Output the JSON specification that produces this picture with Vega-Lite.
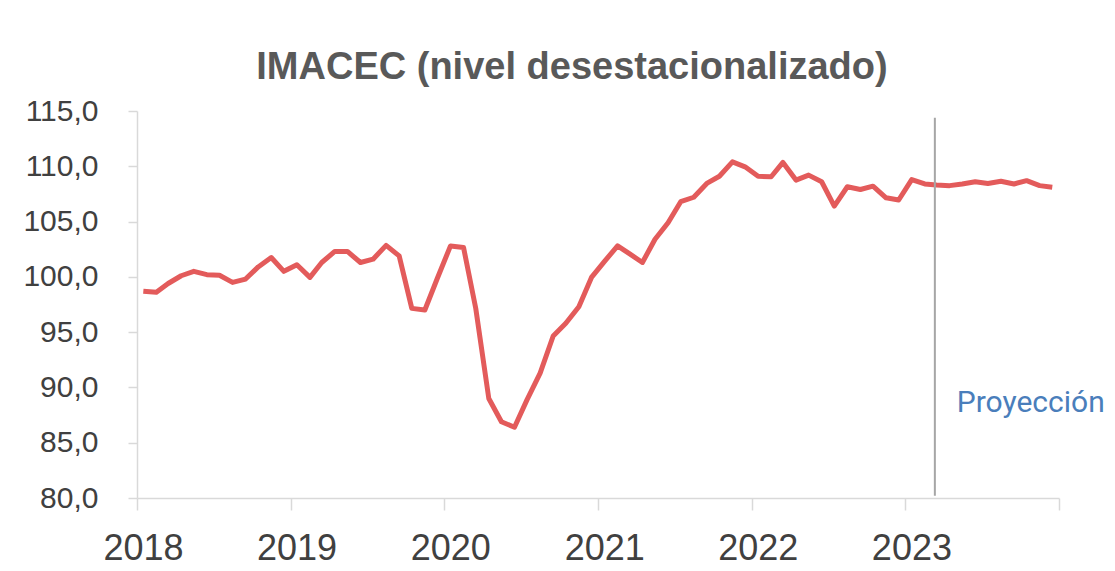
{
  "$schema": "https://vega.github.io/schema/vega-lite/v6.json",
  "autosize": "none",
  "width": 922,
  "height": 387,
  "padding": {"left": 137, "top": 111, "right": 56, "bottom": 73},
  "background": "white",
  "config": {"view": {"stroke": null}},
  "title": {
    "text": "IMACEC (nivel desestacionalizado)",
    "font": "Liberation Sans",
    "fontWeight": "bold",
    "fontSize": 38,
    "color": "#595959",
    "anchor": "middle",
    "frame": "group",
    "baseline": "alphabetic",
    "offset": 31,
    "dx": -26,
    "dy": 52
  },
  "layer": [
    {
      "data": {"values": [
        {"date": "2018-01-16", "v": 98.7},
        {"date": "2018-02-16", "v": 98.6},
        {"date": "2018-03-16", "v": 99.4},
        {"date": "2018-04-16", "v": 100.1},
        {"date": "2018-05-16", "v": 100.5},
        {"date": "2018-06-16", "v": 100.2},
        {"date": "2018-07-16", "v": 100.15},
        {"date": "2018-08-16", "v": 99.5},
        {"date": "2018-09-16", "v": 99.8},
        {"date": "2018-10-16", "v": 100.9},
        {"date": "2018-11-16", "v": 101.75},
        {"date": "2018-12-16", "v": 100.5},
        {"date": "2019-01-16", "v": 101.1},
        {"date": "2019-02-16", "v": 99.95},
        {"date": "2019-03-16", "v": 101.3},
        {"date": "2019-04-16", "v": 102.3},
        {"date": "2019-05-16", "v": 102.3},
        {"date": "2019-06-16", "v": 101.3},
        {"date": "2019-07-16", "v": 101.6},
        {"date": "2019-08-16", "v": 102.85},
        {"date": "2019-09-16", "v": 101.9},
        {"date": "2019-10-16", "v": 97.15},
        {"date": "2019-11-16", "v": 97.0},
        {"date": "2019-12-16", "v": 99.9},
        {"date": "2020-01-16", "v": 102.8},
        {"date": "2020-02-16", "v": 102.65},
        {"date": "2020-03-16", "v": 97.15},
        {"date": "2020-04-16", "v": 89.0},
        {"date": "2020-05-16", "v": 86.9},
        {"date": "2020-06-16", "v": 86.4},
        {"date": "2020-07-16", "v": 88.9},
        {"date": "2020-08-16", "v": 91.3},
        {"date": "2020-09-16", "v": 94.65},
        {"date": "2020-10-16", "v": 95.8},
        {"date": "2020-11-16", "v": 97.3},
        {"date": "2020-12-16", "v": 99.95},
        {"date": "2021-01-16", "v": 101.4},
        {"date": "2021-02-16", "v": 102.8},
        {"date": "2021-03-16", "v": 102.1},
        {"date": "2021-04-16", "v": 101.3},
        {"date": "2021-05-16", "v": 103.4},
        {"date": "2021-06-16", "v": 104.9},
        {"date": "2021-07-16", "v": 106.8},
        {"date": "2021-08-16", "v": 107.2},
        {"date": "2021-09-16", "v": 108.45},
        {"date": "2021-10-16", "v": 109.1},
        {"date": "2021-11-16", "v": 110.4},
        {"date": "2021-12-16", "v": 109.95},
        {"date": "2022-01-16", "v": 109.1},
        {"date": "2022-02-16", "v": 109.05},
        {"date": "2022-03-16", "v": 110.35},
        {"date": "2022-04-16", "v": 108.75},
        {"date": "2022-05-16", "v": 109.2},
        {"date": "2022-06-16", "v": 108.6},
        {"date": "2022-07-16", "v": 106.4},
        {"date": "2022-08-16", "v": 108.15},
        {"date": "2022-09-16", "v": 107.9},
        {"date": "2022-10-16", "v": 108.2},
        {"date": "2022-11-16", "v": 107.15},
        {"date": "2022-12-16", "v": 106.95},
        {"date": "2023-01-16", "v": 108.8},
        {"date": "2023-02-16", "v": 108.4},
        {"date": "2023-03-16", "v": 108.3},
        {"date": "2023-04-16", "v": 108.25},
        {"date": "2023-05-16", "v": 108.4},
        {"date": "2023-06-16", "v": 108.6},
        {"date": "2023-07-16", "v": 108.45},
        {"date": "2023-08-16", "v": 108.65},
        {"date": "2023-09-16", "v": 108.4},
        {"date": "2023-10-16", "v": 108.7},
        {"date": "2023-11-16", "v": 108.25},
        {"date": "2023-12-16", "v": 108.1}
      ]},
      "mark": {"type": "line", "color": "#E35B5B", "strokeWidth": 5, "strokeJoin": "round", "strokeCap": "butt"},
      "encoding": {
        "x": {
          "field": "date",
          "type": "temporal",
          "scale": {
            "type": "utc",
            "domain": [
              {"year": 2018, "month": 1, "date": 1, "utc": true},
              {"year": 2024, "month": 1, "date": 1, "utc": true}
            ]
          },
          "axis": {
            "title": null,
            "grid": false,
            "values": [
              {"year": 2018, "month": 1, "date": 1, "utc": true},
              {"year": 2019, "month": 1, "date": 1, "utc": true},
              {"year": 2020, "month": 1, "date": 1, "utc": true},
              {"year": 2021, "month": 1, "date": 1, "utc": true},
              {"year": 2022, "month": 1, "date": 1, "utc": true},
              {"year": 2023, "month": 1, "date": 1, "utc": true},
              {"year": 2024, "month": 1, "date": 1, "utc": true}
            ],
            "labelExpr": "utcyear(datum.value) >= 2024 ? '' : utcFormat(datum.value, '%Y')",
            "labelFont": "Liberation Sans",
            "labelFontSize": 36,
            "labelColor": "#404040",
            "labelBaseline": "alphabetic",
            "labelPadding": 49,
            "labelOffset": 6,
            "labelFlush": false,
            "labelOverlap": false,
            "tickSize": 12,
            "tickColor": "#d9d9d9",
            "tickWidth": 1.5,
            "domainColor": "#d9d9d9",
            "domainWidth": 1.5
          }
        },
        "y": {
          "field": "v",
          "type": "quantitative",
          "scale": {"domain": [80, 115], "zero": false, "nice": false},
          "axis": {
            "title": null,
            "grid": false,
            "values": [80, 85, 90, 95, 100, 105, 110, 115],
            "labelExpr": "replace(format(datum.value, '.1f'), '.', ',')",
            "labelFont": "Liberation Sans",
            "labelFontSize": 30,
            "labelColor": "#404040",
            "labelPadding": 30,
            "labelFlush": false,
            "labelOverlap": false,
            "tickSize": 9,
            "tickColor": "#d9d9d9",
            "tickWidth": 1.5,
            "domainColor": "#d9d9d9",
            "domainWidth": 1.5
          }
        }
      }
    },
    {
      "data": {"values": [{"date": "2023-03-12", "v": 80.2, "v2": 114.4}]},
      "mark": {"type": "rule", "color": "#a6a6a6", "strokeWidth": 2},
      "encoding": {
        "x": {"field": "date", "type": "temporal"},
        "y": {"field": "v", "type": "quantitative"},
        "y2": {"field": "v2"}
      }
    },
    {
      "data": {"values": [{"date": "2023-05-03", "v": 87.8, "label": "Proyección"}]},
      "mark": {"type": "text", "align": "left", "baseline": "alphabetic", "font": "Roboto", "fontSize": 30, "color": "#4A7EBB"},
      "encoding": {
        "x": {"field": "date", "type": "temporal"},
        "y": {"field": "v", "type": "quantitative"},
        "text": {"field": "label"}
      }
    }
  ]
}
